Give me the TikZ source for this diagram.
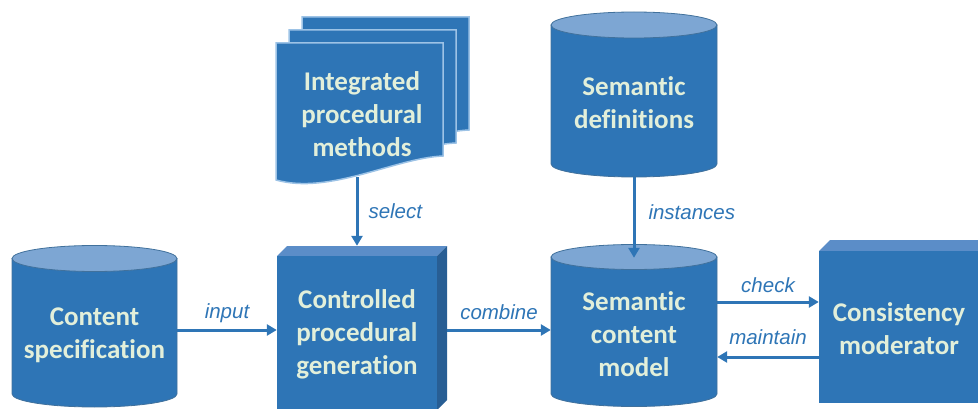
\documentclass[tikz,border=0pt]{standalone}
\usepackage{fontspec}
\setmainfont{Carlito}[Ligatures=NoCommon]
\newfontfamily\tagfont{Liberation Sans}
\usetikzlibrary{arrows.meta}

\definecolor{boxblue}{HTML}{2E75B6}
\definecolor{lidblue}{HTML}{7DA6D3}
\definecolor{edgeblue}{HTML}{41719C}
\definecolor{topface}{HTML}{5B8DC8}
\definecolor{sideface}{HTML}{285E94}
\definecolor{sheetedge}{HTML}{9DC3E6}
\definecolor{textlight}{HTML}{E2EFDA}

\tikzset{
  title/.style={text=textlight, font=\fontsize{27}{33}\selectfont\bfseries, align=center, inner sep=0pt},
  flow/.style={boxblue, line width=3pt, -{Triangle[length=10pt,width=11pt]}},
  tag/.style={text=boxblue, font=\tagfont\itshape\fontsize{20.5}{24}\selectfont, inner sep=2pt},
}

% drum: centre x, lid y, base y, half width, lid radius
\newcommand{\drum}[5]{%
  \filldraw[fill=boxblue, draw=edgeblue, line width=0.8pt] (#1-#4,#2) -- (#1-#4,#3)
    arc[start angle=180, end angle=0, x radius=#4, y radius=#5] -- (#1+#4,#2) -- cycle;
  \filldraw[fill=lidblue, draw=edgeblue, line width=0.8pt] (#1,#2) ellipse[x radius=#4, y radius=#5];
}
% block: front face x1,y1,x2,y2 and depth
\newcommand{\block}[5]{%
  \fill[topface] (#1,#2) -- ++(#5,-#5) -- (#3+#5,#2-#5) -- (#3,#2) -- cycle;
  \fill[sideface] (#3,#2) -- ++(#5,-#5) -- (#3+#5,#4-#5) -- (#3,#4) -- cycle;
  \fill[boxblue] (#1,#2) rectangle (#3,#4);
}

\begin{document}
\begin{tikzpicture}[x=1pt,y=-1pt]
\clip (0,0) rectangle (978,409);

% stores
\drum{94.5}{258.5}{394}{82.5}{13}
\drum{634}{25}{164}{83}{13}
\drum{634}{257}{394}{83}{12.5}

% process blocks
\block{277}{256}{437}{410}{10}
\block{819}{251}{1000}{403}{11}

% stack of sheets, back to front
\foreach \d in {26,13,0}
	\filldraw[fill=boxblue, draw=sheetedge, line width=1.5pt, shift={(\d,-\d)}]
		(276,43) -- (443,43) -- (443,156) .. controls (395,158) and (330,195) .. (276,180) -- cycle;

\node[title, minimum width=165] (spec) at (94.5,335) {Content\\specification};
\node[title, minimum width=160, minimum height=156] (gen) at (357,334) {Controlled\\procedural\\generation};
\node[title, minimum height=126] (methods) at (362,114) {Integrated\\procedural\\methods};
\node[title, minimum width=166, minimum height=148] (defs) at (634,103) {Semantic\\definitions};
\node[title, minimum width=166, minimum height=152] (model) at (634,334) {Semantic\\content\\model};
\node[title, minimum width=160] (mod) at (899,329) {Consistency\\moderator};

\draw[flow] (gen.north |- methods.south) -- ([yshift=10pt]gen.north)
	node[midway, tag, right=8pt] {select};
\draw[flow] (defs.south) -- (model.north)
	node[midway, tag, right=11pt, yshift=5pt] {instances};
\draw[flow] ([yshift=5pt]spec.east) -- ([yshift=5pt]spec.east -| gen.west)
	node[midway, tag, anchor=base, yshift=12pt] {input};
\draw[flow] ([xshift=10pt,yshift=4pt]gen.east) -- ([yshift=4pt]gen.east -| model.west)
	node[midway, tag, anchor=base, yshift=11pt] {combine};
\draw[flow] ([yshift=32pt]model.east) -- ([yshift=32pt]model.east -| mod.west)
	node[midway, tag, anchor=base, yshift=10pt] {check};
\draw[flow] ([yshift=-23pt]model.east -| mod.west) -- ([yshift=-23pt]model.east)
	node[midway, tag, anchor=base, yshift=13pt] {maintain};
\end{tikzpicture}
\end{document}
